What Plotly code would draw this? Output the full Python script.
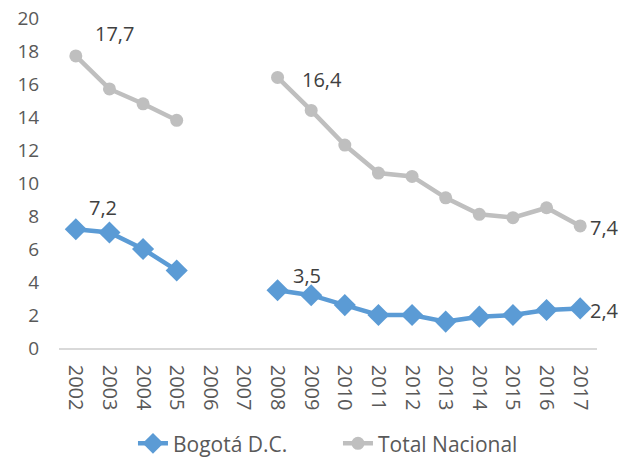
import plotly.graph_objects as go

years = [str(y) for y in range(2002, 2018)]
bogota = [7.2, 7.0, 6.0, 4.7, None, None, 3.5, 3.2, 2.6, 2.0, 2.0, 1.6, 1.9, 2.0, 2.3, 2.4]
nacional = [17.7, 15.7, 14.8, 13.8, None, None, 16.4, 14.4, 12.3, 10.6, 10.4, 9.1, 8.1, 7.9, 8.5, 7.4]

# indices of labelled points and their label offsets (px right, px up)
bogota_labels = {0: (27, 22), 6: (29, 15), 15: (24, -2)}
nacional_labels = {0: (39, 22), 6: (44, -2), 15: (24, -2)}

def fmt(v):
    return f"{v:.1f}".replace(".", ",")

FONT = "Open Sans, Lato, sans-serif"

fig = go.Figure()
fig.add_trace(go.Scatter(
    x=years, y=bogota, name="Bogotá D.C.", mode="lines+markers",
    line=dict(color="#5B9BD5", width=4.5),
    marker=dict(symbol="diamond", size=17, color="#5B9BD5"),
    connectgaps=False, cliponaxis=False,
))
fig.add_trace(go.Scatter(
    x=years, y=nacional, name="Total Nacional", mode="lines+markers",
    line=dict(color="#BFBFBF", width=4.5),
    marker=dict(symbol="circle", size=13, color="#BFBFBF"),
    connectgaps=False, cliponaxis=False,
))

annotations = []
for series, lab in ((bogota, bogota_labels), (nacional, nacional_labels)):
    for i, (dx, dy) in lab.items():
        annotations.append(dict(
            xref="x", yref="y", x=i, y=series[i], text=fmt(series[i]), showarrow=False,
            xanchor="center", yanchor="middle", xshift=dx, yshift=dy,
            font=dict(family=FONT, size=20, color="#404040"),
        ))

# page body has an 8px margin; figure is sized/offset so the plot lands where the reference has it
fig.update_layout(
    width=621, height=490,
    margin=dict(l=51, r=32, t=10, b=150),
    paper_bgcolor="white", plot_bgcolor="white",
    font=dict(family=FONT, size=19, color="#595959"),
    showlegend=True,
    annotations=annotations,
    legend=dict(orientation="h", x=0.1375, xanchor="left",
                y=-0.29, yanchor="middle", entrywidth=160,
                font=dict(family=FONT, size=21, color="#595959")),
    xaxis=dict(type="category", range=[-0.5, 15.5], dtick=1, tickangle=90, showgrid=False,
               showline=True, linecolor="#D9D9D9", linewidth=1.5,
               ticks="outside", ticklen=11, tickcolor="rgba(0,0,0,0)",
               zeroline=False, automargin=False, ticklabeloverflow="allow",
               tickfont=dict(family=FONT, size=20, color="#595959")),
    yaxis=dict(range=[0, 20], dtick=2, showgrid=False, zeroline=False, showline=False,
               automargin=False, ticks="outside", ticklen=15, tickcolor="rgba(0,0,0,0)",
               ticklabeloverflow="allow",
               tickfont=dict(family=FONT, size=19, color="#595959")),
)

fig.write_html("out.html")
